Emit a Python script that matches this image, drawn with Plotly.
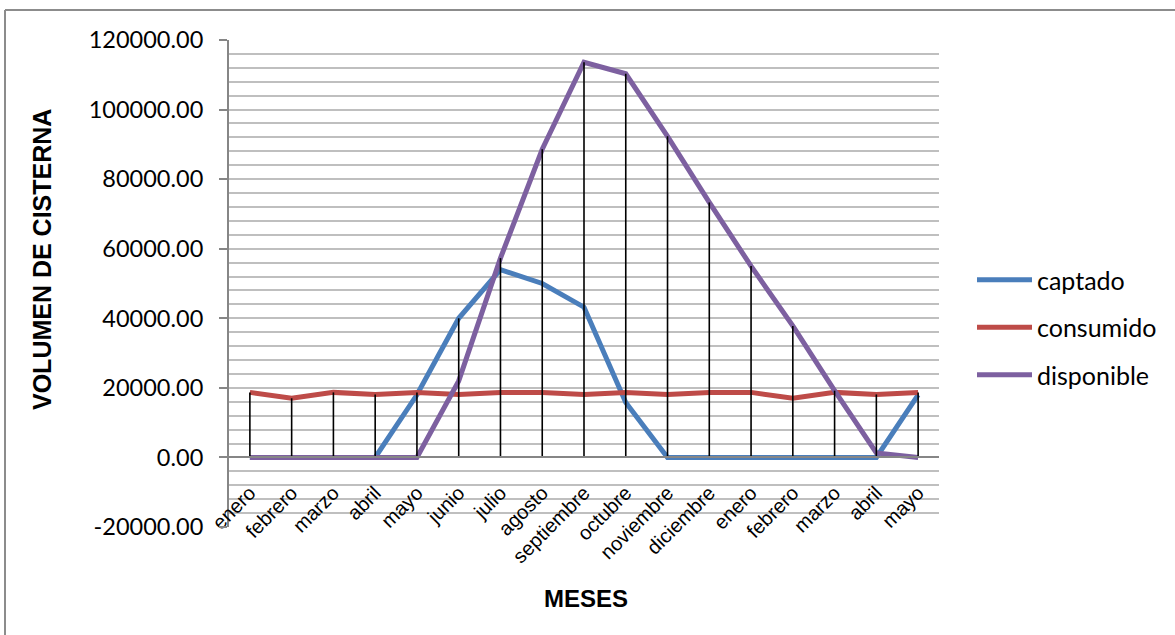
import plotly.graph_objects as go

months = ["enero", "febrero", "marzo", "abril", "mayo", "junio", "julio", "agosto",
          "septiembre", "octubre", "noviembre", "diciembre", "enero", "febrero",
          "marzo", "abril", "mayo"]
captado = [0, 0, 0, 0, 18000, 40000, 54000, 50000, 43200, 15800, 0, 0, 0, 0, 0, 0, 18000]
consumido = [18700, 17000, 18700, 18100, 18700, 18100, 18700, 18700, 18100, 18700,
             18100, 18700, 18700, 17000, 18700, 18100, 18700]
disponible = [0, 0, 0, 0, 0, 22000, 57300, 88600, 113600, 110300, 92300, 73300,
              55000, 37800, 19200, 1300, 0]
y_ticks = [-20000, 0, 20000, 40000, 60000, 80000, 100000, 120000]
y_ticktext = ["-20000.00", "0.00", "20000.00", "40000.00", "60000.00", "80000.00",
              "100000.00", "120000.00"]

x = list(range(len(months)))

# plot area in window pixels (page body margin removed below)
L, R, T, B = 229, 939, 40, 527
W, H = 1175, 635
pw, ph = R - L, B - T


def px(xp):
    return (xp - L) / pw


def py(yp):
    return (B - yp) / ph


fig = go.Figure()
series = [("captado", captado, "#4A7EBB"),
          ("consumido", consumido, "#BE4B48"),
          ("disponible", disponible, "#7D60A0")]
for name, vals, col in series:
    fig.add_trace(go.Scatter(x=x, y=vals, mode="lines", name=name,
                             legendgroup=name,
                             line=dict(color=col, width=5)))

# drop lines
dx, dy = [], []
for i in x:
    top = max(captado[i], consumido[i], disponible[i])
    dx += [i, i, None]
    dy += [top, 0, None]
fig.add_trace(go.Scatter(x=dx, y=dy, mode="lines", showlegend=False,
                         line=dict(color="black", width=1.6), hoverinfo="skip"))

fig.update_layout(
    width=W, height=H,
    margin=dict(l=L, r=W - R, t=T, b=H - B),
    paper_bgcolor="white", plot_bgcolor="white",
    showlegend=True,
    legend=dict(x=px(972), y=py(257), xanchor="left", yanchor="top",
                font=dict(family="Lato", size=25, color="black"),
                tracegroupgap=12, itemwidth=55, bgcolor="rgba(0,0,0,0)"),
    xaxis=dict(range=[-0.5, 16.5], tickvals=x, ticktext=months,
               tickangle=-45, anchor="free", position=20000 / 140000,
               showline=True, linecolor="#868686", linewidth=2,
               showgrid=False, zeroline=False, ticks="",
               ticklabelstandoff=15,
               tickfont=dict(family="Liberation Sans", size=20, color="black")),
    yaxis=dict(range=[-20000, 120000], tickvals=y_ticks, ticktext=y_ticktext,
               showline=True, linecolor="#868686", linewidth=2,
               ticks="outside", ticklen=8, tickcolor="#868686", tickwidth=2,
               showgrid=True, gridcolor="#BFBFBF", gridwidth=2,
               zeroline=False, ticklabelstandoff=11,
               minor=dict(dtick=4000, tick0=0, showgrid=True,
                          gridcolor="#BFBFBF", gridwidth=2),
               tickfont=dict(family="Lato", size=23.5, color="black")),
)

fig.add_annotation(text="<b>VOLUMEN DE CISTERNA</b>", textangle=-90,
                   x=px(42), y=py(260), xref="paper", yref="paper",
                   xanchor="center", yanchor="middle", showarrow=False,
                   font=dict(family="Liberation Sans", size=25, color="black"))
fig.add_annotation(text="<b>MESES</b>",
                   x=px(586), y=py(598), xref="paper", yref="paper",
                   xanchor="center", yanchor="middle", showarrow=False,
                   font=dict(family="Liberation Sans", size=24, color="black"))

# outer chart border (left and top only visible)
fig.add_shape(type="line", xref="paper", yref="paper",
              x0=px(5), x1=px(5), y0=py(10), y1=py(640),
              line=dict(color="#8C8C8C", width=2))
fig.add_shape(type="line", xref="paper", yref="paper",
              x0=px(5), x1=px(1180), y0=py(10), y1=py(10),
              line=dict(color="#8C8C8C", width=2))

fig.write_html("out.html",
               config={"displayModeBar": False},
               post_script="document.body.style.margin='0px';"
                           "document.body.style.overflow='hidden';")
